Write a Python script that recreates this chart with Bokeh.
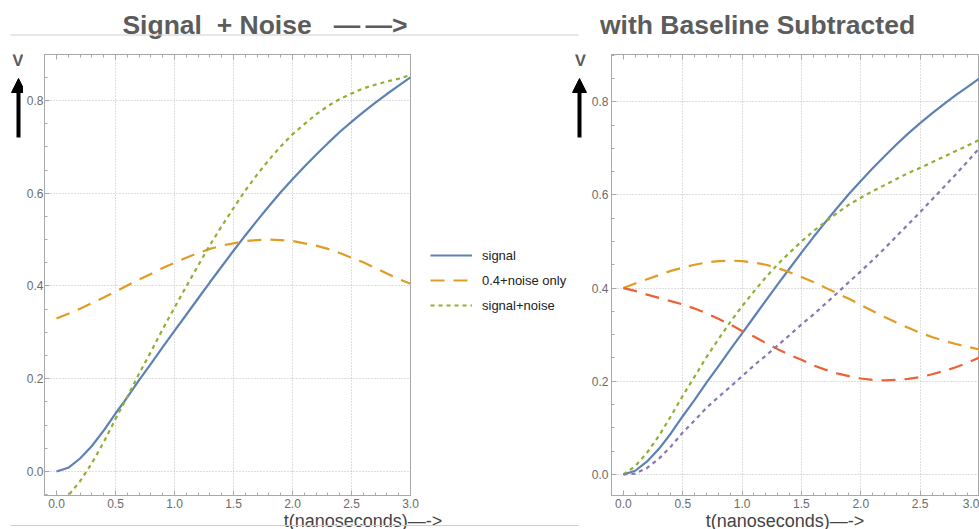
from bokeh.plotting import figure
from bokeh.layouts import row, column
from bokeh.models import (Range1d, LinearAxis, FixedTicker, NumeralTickFormatter,
                          CustomJSTickFormatter, Label, Arrow, NormalHead, Legend, LegendItem)
from bokeh.embed import file_html
from bokeh.resources import INLINE

# ---------------- data ----------------
t = [0.0, 0.1, 0.2, 0.3, 0.4, 0.5, 0.6, 0.7, 0.8, 0.9, 1.0,
     1.1, 1.2, 1.3, 1.4, 1.5, 1.6, 1.7, 1.8, 1.9, 2.0,
     2.1, 2.2, 2.3, 2.4, 2.5, 2.6, 2.7, 2.8, 2.9, 3.0]

signal = [0.000, 0.008, 0.028, 0.055, 0.088, 0.125, 0.160, 0.197, 0.232, 0.268, 0.303,
          0.338, 0.373, 0.408, 0.442, 0.476, 0.509, 0.541, 0.572, 0.602, 0.630,
          0.657, 0.683, 0.708, 0.732, 0.754, 0.775, 0.795, 0.814, 0.832, 0.850]

noise_only_left = [0.330, 0.340, 0.351, 0.363, 0.375, 0.388, 0.401, 0.414, 0.426, 0.439, 0.450,
                   0.461, 0.471, 0.480, 0.487, 0.492, 0.497, 0.499, 0.500, 0.499, 0.497,
                   0.492, 0.487, 0.480, 0.471, 0.461, 0.451, 0.439, 0.427, 0.415, 0.405]

signal_noise_left = [-0.070, -0.052, -0.021, 0.018, 0.063, 0.113, 0.161, 0.211, 0.258, 0.307, 0.353,
                     0.399, 0.444, 0.488, 0.529, 0.568, 0.606, 0.640, 0.672, 0.701, 0.727,
                     0.749, 0.770, 0.788, 0.803, 0.815, 0.826, 0.834, 0.841, 0.847, 0.855]

noise_a_right = [0.400, 0.410, 0.419, 0.428, 0.437, 0.444, 0.450, 0.455, 0.458, 0.459, 0.458,
                 0.455, 0.450, 0.443, 0.434, 0.424, 0.413, 0.401, 0.389, 0.377, 0.364,
                 0.351, 0.338, 0.326, 0.315, 0.304, 0.295, 0.287, 0.280, 0.274, 0.268]

noise_b_right = [0.400, 0.394, 0.386, 0.379, 0.372, 0.365, 0.356, 0.346, 0.334, 0.322, 0.308,
                 0.296, 0.282, 0.269, 0.257, 0.246, 0.234, 0.225, 0.217, 0.211, 0.206,
                 0.203, 0.202, 0.203, 0.205, 0.209, 0.215, 0.222, 0.230, 0.240, 0.251]

signal_noise_a_right = [0.000, 0.018, 0.047, 0.083, 0.125, 0.169, 0.210, 0.252, 0.290, 0.327, 0.361,
                        0.393, 0.423, 0.451, 0.476, 0.500, 0.522, 0.542, 0.561, 0.579, 0.594,
                        0.608, 0.621, 0.634, 0.647, 0.658, 0.670, 0.682, 0.694, 0.706, 0.718]

signal_noise_b_right = [0.000, 0.002, 0.014, 0.034, 0.060, 0.090, 0.116, 0.143, 0.166, 0.188, 0.211,
                        0.234, 0.255, 0.277, 0.299, 0.322, 0.343, 0.366, 0.389, 0.413, 0.436,
                        0.460, 0.485, 0.511, 0.537, 0.563, 0.590, 0.617, 0.644, 0.672, 0.701]

x_ticks = [0.0, 0.5, 1.0, 1.5, 2.0, 2.5, 3.0]
y_ticks = [0.0, 0.2, 0.4, 0.6, 0.8]
legend_labels = ["signal", "0.4+noise only", "signal+noise"]
titles = ["Signal\u00a0 + Noise\u00a0\u00a0 \u2014\u2009\u2014>", "with Baseline Subtracted"]
x_label = "t(nanoseconds)\u2014->"
y_label = "V"

# ---------------- styles ----------------
BLUE, ORANGE, GREEN, RED, PURPLE = "#5E81B5", "#E19C24", "#8FB032", "#EB6235", "#8778B3"
FONT = "Liberation Sans"
FRAME = "#a8a8a8"
TICKTXT = "#6b6b6b"
TITLE_COL = "#5c5c5c"
SEP = "#cfcfcf"
LW = 2.2
SOLID = dict(line_width=LW)
DASHED = dict(line_width=LW, line_dash="14 9")
DOTTED = dict(line_width=LW, line_dash="4 4")

x_minor = [round(-0.1 + 0.1 * i, 2) for i in range(32)]
y_minor = [round(-0.05 + 0.05 * i, 2) for i in range(20)]


def style_axis(ax, ticks, minor, labels=True, standoff=4):
    ax.ticker = FixedTicker(ticks=ticks, minor_ticks=minor)
    ax.axis_line_color = FRAME
    ax.major_tick_line_color = FRAME
    ax.minor_tick_line_color = FRAME
    ax.major_tick_in = 5
    ax.major_tick_out = 0
    ax.minor_tick_in = 3
    ax.minor_tick_out = 0
    ax.major_label_text_font = FONT
    ax.major_label_text_font_size = "12px"
    ax.major_label_text_color = TICKTXT
    ax.major_label_standoff = standoff
    if labels:
        ax.formatter = NumeralTickFormatter(format="0.0")
    else:
        ax.formatter = CustomJSTickFormatter(code="return ''")
        ax.major_label_standoff = 0


# all plots of the middle row share the same top/bottom borders (Bokeh aligns them)
MID_H = 472
BORDER_TOP = 14
BORDER_BOTTOM = 17


def make_fig(width, xr, yr, mbl, mbr, xs, ys):
    p = figure(width=width, height=MID_H, x_range=Range1d(*xr), y_range=Range1d(*yr),
               output_backend="svg", toolbar_location=None, title=None,
               min_border_left=mbl, min_border_right=mbr,
               min_border_top=BORDER_TOP, min_border_bottom=BORDER_BOTTOM)
    p.background_fill_color = "white"
    p.border_fill_color = "white"
    p.outline_line_color = FRAME
    style_axis(p.xaxis[0], x_ticks, x_minor, standoff=xs)
    style_axis(p.yaxis[0], y_ticks, y_minor, standoff=ys)
    top = LinearAxis()
    style_axis(top, x_ticks, x_minor, labels=False)
    p.add_layout(top, "above")
    p.xgrid.ticker = FixedTicker(ticks=x_ticks[1:])
    p.ygrid.ticker = FixedTicker(ticks=y_ticks)
    for g in (p.xgrid[0], p.ygrid[0]):
        g.grid_line_color = "#bdbdbd"
        g.grid_line_dash = "1 2"
        g.grid_line_width = 1
    return p


def strip(width, height, xr=(0, 1)):
    f = figure(width=width, height=height, x_range=Range1d(*xr), y_range=Range1d(0, 1),
               output_backend="svg", toolbar_location=None, title=None, min_border=0,
               x_axis_location=None, y_axis_location=None)
    f.outline_line_color = None
    f.background_fill_color = "white"
    f.border_fill_color = "white"
    for g in list(f.xgrid) + list(f.ygrid):
        g.visible = False
    return f


def add_text(p, x, y, text, size, color, bold=False):
    p.add_layout(Label(x=x, y=y, x_units="screen", y_units="screen", text=text,
                       text_font=FONT, text_font_size=size,
                       text_font_style="bold" if bold else "normal",
                       text_color=color, text_align="center", text_baseline="middle"))


def add_rule(p, x0, x1, y):
    p.add_layout(Arrow(end=None, x_start=x0, y_start=y, x_end=x1, y_end=y,
                       start_units="screen", end_units="screen",
                       line_color=SEP, line_width=1.2))


def add_up_arrow(p, x, y0, y1, head=14):
    p.add_layout(Arrow(end=None, x_start=x, y_start=y0, x_end=x, y_end=y1 - head + 1,
                       start_units="screen", end_units="screen",
                       line_color="black", line_width=4))
    p.add_layout(Arrow(end=NormalHead(size=head, fill_color="black", line_color="black", line_width=1),
                       x_start=x, y_start=y1 - head, x_end=x, y_end=y1,
                       start_units="screen", end_units="screen",
                       line_color="black", line_alpha=0, line_width=1))


# ---------------- left panel ----------------
p1 = make_fig(397, (-0.1014, 3.0), (-0.0518, 0.8992), 20, 10, 3, 1)
p1.line(t, signal, line_color=BLUE, **SOLID)
p1.line(t, noise_only_left, line_color=ORANGE, **DASHED)
p1.line(t, signal_noise_left, line_color=GREEN, **DOTTED)

# legend panel between the two plots (same series, same styles; its x-range
# shows no data, only the legend keys)
lg = strip(150, MID_H, xr=(-2.0, -1.0))
k1 = lg.line(t, signal, line_color=BLUE, **SOLID)
k2 = lg.line(t, noise_only_left, line_color=ORANGE, **DASHED)
k3 = lg.line(t, signal_noise_left, line_color=GREEN, **DOTTED)
legend = Legend(items=[LegendItem(label=legend_labels[0], renderers=[k1]),
                       LegendItem(label=legend_labels[1], renderers=[k2]),
                       LegendItem(label=legend_labels[2], renderers=[k3])],
                location=(10, 180), padding=0, margin=0,
                border_line_color=None, background_fill_alpha=0,
                glyph_width=42, glyph_height=20, label_standoff=10, spacing=5,
                label_text_font=FONT, label_text_font_size="13px", label_text_color="#222222")
lg.add_layout(legend)

# ---------------- right panel ----------------
p2 = make_fig(391, (-0.1, 3.0), (-0.0451, 0.9013), 22, 0, 3, 3)
p2.line(t, signal, line_color=BLUE, **SOLID)
p2.line(t, noise_a_right, line_color=ORANGE, **DASHED)
p2.line(t, noise_b_right, line_color=RED, **DASHED)
p2.line(t, signal_noise_a_right, line_color=GREEN, **DOTTED)
p2.line(t, signal_noise_b_right, line_color=PURPLE, **DOTTED)

# ---------------- decorations (titles, V arrows, t labels) ----------------
top = strip(979, 40)
add_text(top, 264.5, 16, titles[0], "26.5px", TITLE_COL, bold=True)
add_text(top, 757, 16, titles[1], "26.5px", TITLE_COL, bold=True)
add_rule(top, 10, 578, 5.5)

# decoration strips get the row's aligned frame (page y 54..495)
dl = strip(23, MID_H)
add_text(dl, 17.5, 435, y_label, "17px", TITLE_COL, bold=True)
add_up_arrow(dl, 18, 358, 417)

dr = strip(18, MID_H)
add_text(dr, 10, 435, y_label, "17px", TITLE_COL, bold=True)
add_up_arrow(dr, 9, 358, 417)

bottom = strip(979, 17)
add_text(bottom, 362.5, 9, x_label, "18px", "#444444")
add_text(bottom, 784.5, 9, x_label, "18px", "#444444")
add_rule(bottom, 10, 578, 4)

layout = column(top, row(dl, p1, lg, dr, p2), bottom)
open("out.html", "w").write(file_html(layout, INLINE))
